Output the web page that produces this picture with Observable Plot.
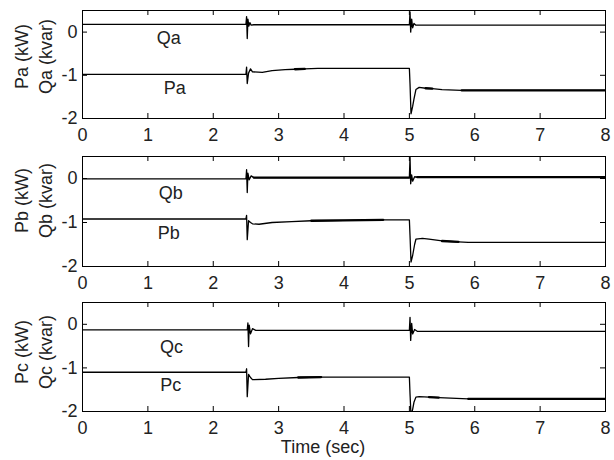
<!DOCTYPE html>
<html>
<head>
<meta charset="utf-8">
<script src="https://cdn.jsdelivr.net/npm/d3@7"></script>
<script src="https://cdn.jsdelivr.net/npm/@observablehq/plot@0.6"></script>
<style>
  body { margin: 0; background: #fff; }
  #chart { width: 614px; }
  #chart svg { display: block; }
</style>
</head>
<body>
<div id="chart"></div>
<script>
// ---- axis ticks ----
const xTicks = [0, 1, 2, 3, 4, 5, 6, 7, 8];
const yTicks = [-2, -1, 0];
const xLabel = "Time (sec)";

// ---- phase a ----
const tQa = [0, 2.5, 2.51, 2.52, 2.53, 2.545, 2.56, 2.58, 2.62, 5.0, 5.01, 5.02, 5.035, 5.05, 5.07, 5.1, 8];
const Qa  = [0.18, 0.18, 0.36, -0.15, 0.3, 0.14, 0.22, 0.16, 0.17, 0.17, 0.47, 0.0, 0.3, 0.1, 0.2, 0.16, 0.16];
const tPa = [0, 2.5, 2.51, 2.52, 2.54, 2.57, 2.6, 2.75, 2.9, 3.1, 3.25, 3.4, 3.6, 4.0, 5.0, 5.01, 5.025, 5.05, 5.07, 5.1, 5.15, 5.25, 5.35, 5.5, 5.8, 8];
const Pa  = [-0.98, -0.98, -0.81, -1.19, -0.95, -0.85, -0.92, -0.93, -0.89, -0.87, -0.86, -0.85, -0.84, -0.84, -0.84, -1.2, -1.89, -1.72, -1.55, -1.33, -1.28, -1.3, -1.31, -1.33, -1.35, -1.35];
const thickPa = [[3.25, 3.4], [5.25, 5.35], [5.8, 8]];
const thickQa = [];
const curveNamesA = ["Qa", "Pa"];
const curveXA = [1.32, 1.41];
const curveYA = [-0.15, -1.31];
const yLabelA = "Pa (kW)\nQa (kvar)";

// ---- phase b ----
const tQb = [0, 2.5, 2.51, 2.52, 2.53, 2.55, 2.58, 2.62, 5.0, 5.01, 5.02, 5.035, 5.05, 5.08, 5.12, 8];
const Qb  = [-0.01, -0.01, 0.2, -0.32, 0.12, -0.03, 0.06, 0.02, 0.02, 0.48, -0.12, 0.08, -0.06, 0.04, 0.03, 0.03];
const tPb = [0, 2.5, 2.51, 2.52, 2.54, 2.57, 2.6, 2.7, 2.9, 3.2, 3.5, 4.0, 4.6, 5.0, 5.01, 5.025, 5.05, 5.08, 5.1, 5.2, 5.3, 5.5, 5.75, 5.9, 8];
const Pb  = [-0.92, -0.92, -0.84, -1.39, -0.96, -1.0, -1.03, -1.04, -1.0, -0.98, -0.96, -0.95, -0.94, -0.94, -1.3, -1.9, -1.75, -1.5, -1.38, -1.36, -1.38, -1.42, -1.44, -1.45, -1.45];
const thickQb = [[2.62, 5.0], [5.12, 8]];
const thickPb = [[3.5, 4.6], [5.5, 5.75]];
const curveNamesB = ["Qb", "Pb"];
const curveXB = [1.35, 1.32];
const curveYB = [-0.34, -1.25];
const yLabelB = "Pb (kW)\nQb (kvar)";

// ---- phase c ----
const tQc = [0, 2.52, 2.53, 2.54, 2.55, 2.57, 2.6, 2.65, 5.0, 5.01, 5.02, 5.035, 5.05, 5.08, 5.12, 8];
const Qc  = [-0.13, -0.13, 0.03, -0.51, -0.02, -0.22, -0.1, -0.14, -0.14, 0.16, -0.37, 0.02, -0.22, -0.12, -0.16, -0.16];
const tPc = [0, 2.5, 2.51, 2.52, 2.54, 2.57, 2.6, 2.8, 3.0, 3.3, 3.65, 4.0, 5.0, 5.01, 5.025, 5.05, 5.07, 5.1, 5.15, 5.3, 5.45, 5.9, 8];
const Pc  = [-1.10, -1.10, -1.02, -1.66, -1.15, -1.22, -1.27, -1.26, -1.24, -1.22, -1.21, -1.21, -1.21, -1.6, -2.1, -1.95, -1.79, -1.67, -1.66, -1.67, -1.68, -1.71, -1.71];
const thickQc = [];
const thickPc = [[3.3, 3.65], [5.3, 5.45], [5.9, 8]];
const curveNamesC = ["Qc", "Pc"];
const curveXC = [1.36, 1.35];
const curveYC = [-0.52, -1.40];
const yLabelC = "Pc (kW)\nQc (kvar)";

// ---- layout ----
const W = 614, ML = 82, MR = 9;
const FONT = "'Liberation Sans', Arial, Helvetica, sans-serif";
const FS = 18;
const TXT = "#222";

function rows(t, v) { return t.map((ti, i) => ({t: ti, v: v[i]})); }
function thickMarks(data, ranges) {
  return ranges.map(([a, b]) => Plot.line(data.filter(d => d.t >= a && d.t <= b),
    {x: "t", y: "v", stroke: "#000", strokeWidth: 2.3, clip: true}));
}

function panel(cfg) {
  const {height, marginTop, marginBottom, series, names, nx, ny, ylab, ylabDy, showXLabel} = cfg;
  const plotH = height - marginTop - marginBottom;
  const plotW = W - ML - MR;
  const marks = [];
  for (const s of series) {
    const d = rows(s.t, s.v);
    marks.push(Plot.line(d, {x: "t", y: "v", stroke: "#000", strokeWidth: 1.3, clip: true}));
    marks.push(...thickMarks(d, s.thick));
  }
  marks.push(
    Plot.frame({stroke: "#000", strokeWidth: 1}),
    Plot.tickX(xTicks, {x: d => d, stroke: "#000", insetTop: plotH - 5}),
    Plot.tickX(xTicks, {x: d => d, stroke: "#000", insetBottom: plotH - 5}),
    Plot.tickY(yTicks, {y: d => d, stroke: "#000", insetRight: plotW - 5}),
    Plot.tickY(yTicks, {y: d => d, stroke: "#000", insetLeft: plotW - 5}),
    Plot.axisX(xTicks, {anchor: "bottom", tickSize: 0, tickPadding: 10, fontSize: FS, fill: TXT, label: null}),
    Plot.axisY(yTicks, {anchor: "left", tickSize: 0, tickPadding: 5, fontSize: FS, fill: TXT, label: null, tickFormat: d => d === 0 ? "0" : String(d).replace("−", "-")}),
    Plot.text(names.map((n, i) => ({n, x: nx[i], y: ny[i]})),
      {x: "x", y: "y", text: "n", fontSize: FS, fill: TXT}),
    Plot.text([ylab], {frameAnchor: "left", rotate: -90, dx: -50, dy: ylabDy, lineHeight: 1.3, fontSize: FS, fill: TXT, textAnchor: "middle"})
  );
  if (showXLabel) {
    marks.push(Plot.text([xLabel], {frameAnchor: "bottom", lineAnchor: "top", dy: 29, dx: -21, fontSize: FS, fill: TXT}));
  }
  return Plot.plot({
    width: W, height, marginTop, marginBottom, marginLeft: ML, marginRight: MR,
    x: {domain: [0, 8]},
    y: {domain: [-2, 0.5]},
    style: {fontFamily: FONT, fontSize: FS + "px", background: "#fff", color: "#000"},
    marks
  });
}

const chart = document.getElementById("chart");
chart.append(panel({
  height: 146, marginTop: 10, marginBottom: 28,
  series: [{t: tQa, v: Qa, thick: thickQa}, {t: tPa, v: Pa, thick: thickPa}],
  names: curveNamesA, nx: curveXA, ny: curveYA, ylab: yLabelA, ylabDy: -8
}));
chart.append(panel({
  height: 146, marginTop: 10, marginBottom: 26,
  series: [{t: tQb, v: Qb, thick: thickQb}, {t: tPb, v: Pb, thick: thickPb}],
  names: curveNamesB, nx: curveXB, ny: curveYB, ylab: yLabelB, ylabDy: -11
}));
chart.append(panel({
  height: 168, marginTop: 10, marginBottom: 49,
  series: [{t: tQc, v: Qc, thick: thickQc}, {t: tPc, v: Pc, thick: thickPc}],
  names: curveNamesC, nx: curveXC, ny: curveYC, ylab: yLabelC, ylabDy: -5, showXLabel: true
}));
</script>
</body>
</html>
